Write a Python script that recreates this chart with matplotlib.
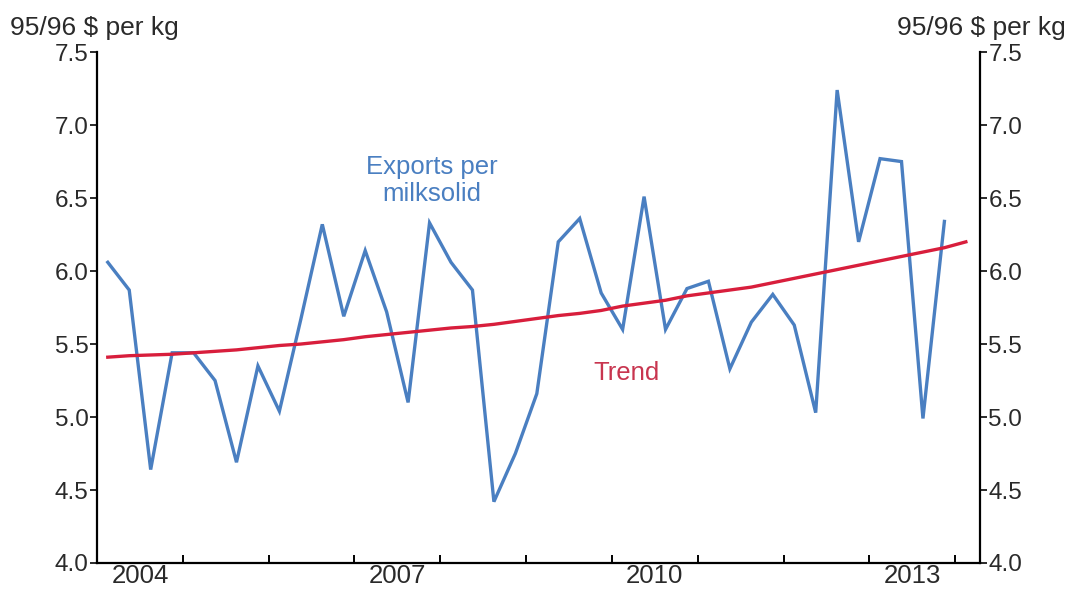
import numpy as np
import matplotlib.pyplot as plt
from matplotlib.ticker import FixedLocator, NullFormatter

plt.rcParams['font.family'] = ['Liberation Sans', 'DejaVu Sans']

# quarterly export values per milksolid (95/96 $ per kg)
exports = [6.06, 5.87, 4.64, 5.44, 5.44, 5.25, 4.69, 5.35, 5.04, 5.67,
           6.32, 5.69, 6.14, 5.72, 5.10, 6.33, 6.06, 5.87, 4.42, 4.75,
           5.16, 6.20, 6.36, 5.85, 5.60, 6.51, 5.60, 5.88, 5.93, 5.33,
           5.65, 5.84, 5.63, 5.03, 7.24, 6.20, 6.77, 6.75, 4.99, 6.34]
trend = [5.41, 5.42, 5.425, 5.43, 5.44, 5.45, 5.46, 5.475, 5.49, 5.50,
         5.515, 5.53, 5.55, 5.565, 5.58, 5.595, 5.61, 5.62, 5.635, 5.655,
         5.675, 5.695, 5.71, 5.73, 5.76, 5.78, 5.80, 5.83, 5.85, 5.87,
         5.89, 5.92, 5.95, 5.98, 6.01, 6.04, 6.07, 6.10, 6.13, 6.16, 6.20]
year_labels = ['2004', '2007', '2010', '2013']

x_exp = 2004.125 + 0.25 * np.arange(len(exports))
x_trend = 2004.125 + 0.25 * np.arange(len(trend))

fig = plt.figure(figsize=(10.7, 5.92), dpi=100)
ax = fig.add_axes([0.0907, 0.049, 0.8252, 0.863])

ax.plot(x_exp, exports, color='#4a7fc1', lw=2.4, solid_joinstyle='miter')
ax.plot(x_trend, trend, color='#d81e3c', lw=2.4)

ax.set_xlim(2004.0, 2014.29)
ax.set_ylim(4.0, 7.5)

ax.spines['top'].set_visible(False)
for s in ['left', 'right', 'bottom']:
    ax.spines[s].set_linewidth(1.6)

yt = np.arange(4.0, 7.51, 0.5)
ax.set_yticks(yt)
ax.set_yticklabels([f'{v:.1f}' for v in yt])
ax.tick_params(axis='y', which='both', direction='out', length=5, width=1.4,
               labelsize=17.5, pad=1, right=True, labelright=True, colors='#2a2a2a')

# year boundaries as ticks, labels centred in the year
ax.xaxis.set_major_locator(FixedLocator(np.arange(2005, 2015)))
ax.xaxis.set_major_formatter(NullFormatter())
ax.xaxis.set_minor_locator(FixedLocator([int(y) + 0.5 for y in year_labels]))
ax.set_xticklabels(year_labels, minor=True)
ax.tick_params(axis='x', which='major', direction='in', length=6, width=1.4)
ax.tick_params(axis='x', which='minor', length=0, labelsize=18.5, pad=1, colors='#2a2a2a')

fig.text(0.009, 0.953, '95/96 $ per kg', fontsize=19, ha='left', va='center', color='#2a2a2a')
fig.text(0.996, 0.953, '95/96 $ per kg', fontsize=19, ha='right', va='center', color='#2a2a2a')

ax.text(2007.9, 6.62, 'Exports per\nmilksolid', color='#4a7fc1', fontsize=18.5,
        ha='center', va='center', linespacing=1.2)
ax.text(2010.17, 5.30, 'Trend', color='#c8354f', fontsize=18.5, ha='center', va='center')

plt.savefig('out.png', dpi=100)
